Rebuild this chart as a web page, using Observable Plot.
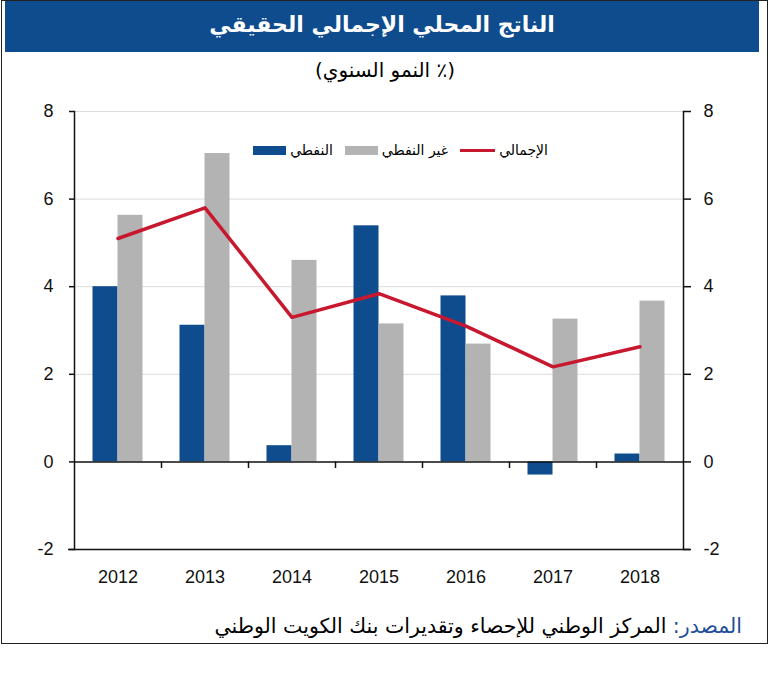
<!DOCTYPE html>
<html><head><meta charset="utf-8">
<script src="https://cdn.jsdelivr.net/npm/d3@7"></script>
<script src="https://cdn.jsdelivr.net/npm/@observablehq/plot@0.6"></script>
<style>
body{margin:0;background:#fff;}
#wrap{position:relative;width:770px;height:694px;font-family:"Liberation Sans","DejaVu Sans",sans-serif;}
#frame{position:absolute;left:1px;top:0;width:767px;height:644px;border:1.5px solid #222;box-sizing:border-box;}
#title{position:absolute;left:5px;top:1px;width:754px;height:51px;background:#0E4C8E;color:#fff;font-weight:bold;font-size:22px;text-align:center;line-height:48px;direction:rtl;font-family:"DejaVu Sans",sans-serif;}
#subtitle{position:absolute;left:0;top:58px;width:770px;text-align:center;font-size:20px;direction:rtl;font-family:"DejaVu Sans",sans-serif;}
#chart{position:absolute;left:0;top:95px;}
#legend{position:absolute;top:142px;right:222px;display:flex;flex-direction:row;direction:rtl;align-items:center;gap:12px;font-size:14px;font-family:"DejaVu Sans",sans-serif;}
#legend .it{display:flex;align-items:center;gap:4px;}
#legend .sw{display:inline-block;width:33px;height:9px;}
#legend .ln{display:inline-block;width:35px;height:3px;}
#source{position:absolute;right:28px;top:614px;font-size:20.5px;direction:rtl;font-family:"DejaVu Sans",sans-serif;white-space:nowrap;}
</style>
</head><body>
<div id="wrap">
  <div id="frame"></div>
  <div id="title"></div>
  <div id="subtitle"></div>
  <div id="chart"></div>
  <div id="legend"></div>
  <div id="source"></div>
</div>
<script>
const titleText = "الناتج المحلي الإجمالي الحقيقي";
const subtitleText = "(٪ النمو السنوي)";
const sourceLabel = "المصدر:";
const sourceText = " المركز الوطني للإحصاء وتقديرات بنك الكويت الوطني";

const years = ["2012","2013","2014","2015","2016","2017","2018"];
const oil =    [4.0, 3.12, 0.37, 5.39, 3.79, -0.30, 0.18];
const nonOil = [5.63, 7.04, 4.60, 3.15, 2.69, 3.26, 3.67];
const total =  [5.10, 5.80, 3.30, 3.84, 3.10, 2.17, 2.63];
const yTicks = [-2, 0, 2, 4, 6, 8];
const gridTicks = [2, 4, 6, 8];

const seriesNames = {oil: "النفطي", nonOil: "غير النفطي", total: "الإجمالي"};
const colors = {oil: "#0E4C8E", nonOil: "#B3B3B3", total: "#C8182F"};

document.getElementById("title").textContent = titleText;
document.getElementById("subtitle").textContent = subtitleText;
document.getElementById("source").innerHTML =
  `<span style="color:#1F4E99">${sourceLabel}</span><span>${sourceText}</span>`;

// legend (RTL order: total, nonOil, oil)
const legend = document.getElementById("legend");
legend.innerHTML = `
  <div class="it"><span>${seriesNames.total}</span><span class="ln" style="background:${colors.total}"></span></div>
  <div class="it"><span>${seriesNames.nonOil}</span><span class="sw" style="background:${colors.nonOil}"></span></div>
  <div class="it"><span>${seriesNames.oil}</span><span class="sw" style="background:${colors.oil}"></span></div>`;

const oilRows = years.map((y, i) => ({year: y, value: oil[i]}));
const nonOilRows = years.map((y, i) => ({year: y, value: nonOil[i]}));
const totalRows = years.map((y, i) => ({year: y, value: total[i]}));

const W = 770, H = 500, mL = 74, mR = 87, mT = 16, mB = 46;
const step = (W - mL - mR) / years.length;
const bw = 25;
const pIn = 1 - bw / step;

const chart = Plot.plot({
  width: W, height: H,
  marginLeft: mL, marginRight: mR, marginTop: mT, marginBottom: mB,
  style: {fontFamily: "Liberation Sans, Arial, sans-serif", fontSize: "18px", color: "#111", background: "transparent"},
  x: {domain: years, paddingInner: pIn, paddingOuter: pIn / 2, round: false, label: null},
  y: {domain: [-2, 8], label: null},
  marks: [
    Plot.ruleY(gridTicks, {stroke: "#dcdcdc", strokeWidth: 1}),
    Plot.barY(oilRows, {x: "year", y: "value", fill: colors.oil, dx: -bw / 2}),
    Plot.barY(nonOilRows, {x: "year", y: "value", fill: colors.nonOil, dx: bw / 2}),
    Plot.ruleY([0], {stroke: "#111", strokeWidth: 1.5}),
    Plot.ruleX(years.slice(1), {x: d => d, y1: 0, y2: -0.15, dx: -step / 2, stroke: "#111", strokeWidth: 1.5}),
    Plot.ruleY([-2], {stroke: "#111", strokeWidth: 1.5, insetLeft: -6, insetRight: -7}),
    Plot.frame({anchor: "left", stroke: "#111", strokeWidth: 1.5}),
    Plot.frame({anchor: "right", stroke: "#111", strokeWidth: 1.5}),
    Plot.lineY(totalRows, {x: "year", y: "value", stroke: colors.total, strokeWidth: 3.5}),
    Plot.axisY({anchor: "left", ticks: yTicks, tickSize: 5, tickPadding: 16, tickFormat: d => String(d), strokeWidth: 1.5, label: null}),
    Plot.axisY({anchor: "right", ticks: yTicks, tickSize: 7, tickPadding: 13, tickFormat: d => String(d), strokeWidth: 1.5, label: null}),
    Plot.axisX({anchor: "bottom", tickSize: 0, tickPadding: 21, label: null})
  ]
});
document.getElementById("chart").appendChild(chart);
</script>
</body></html>
